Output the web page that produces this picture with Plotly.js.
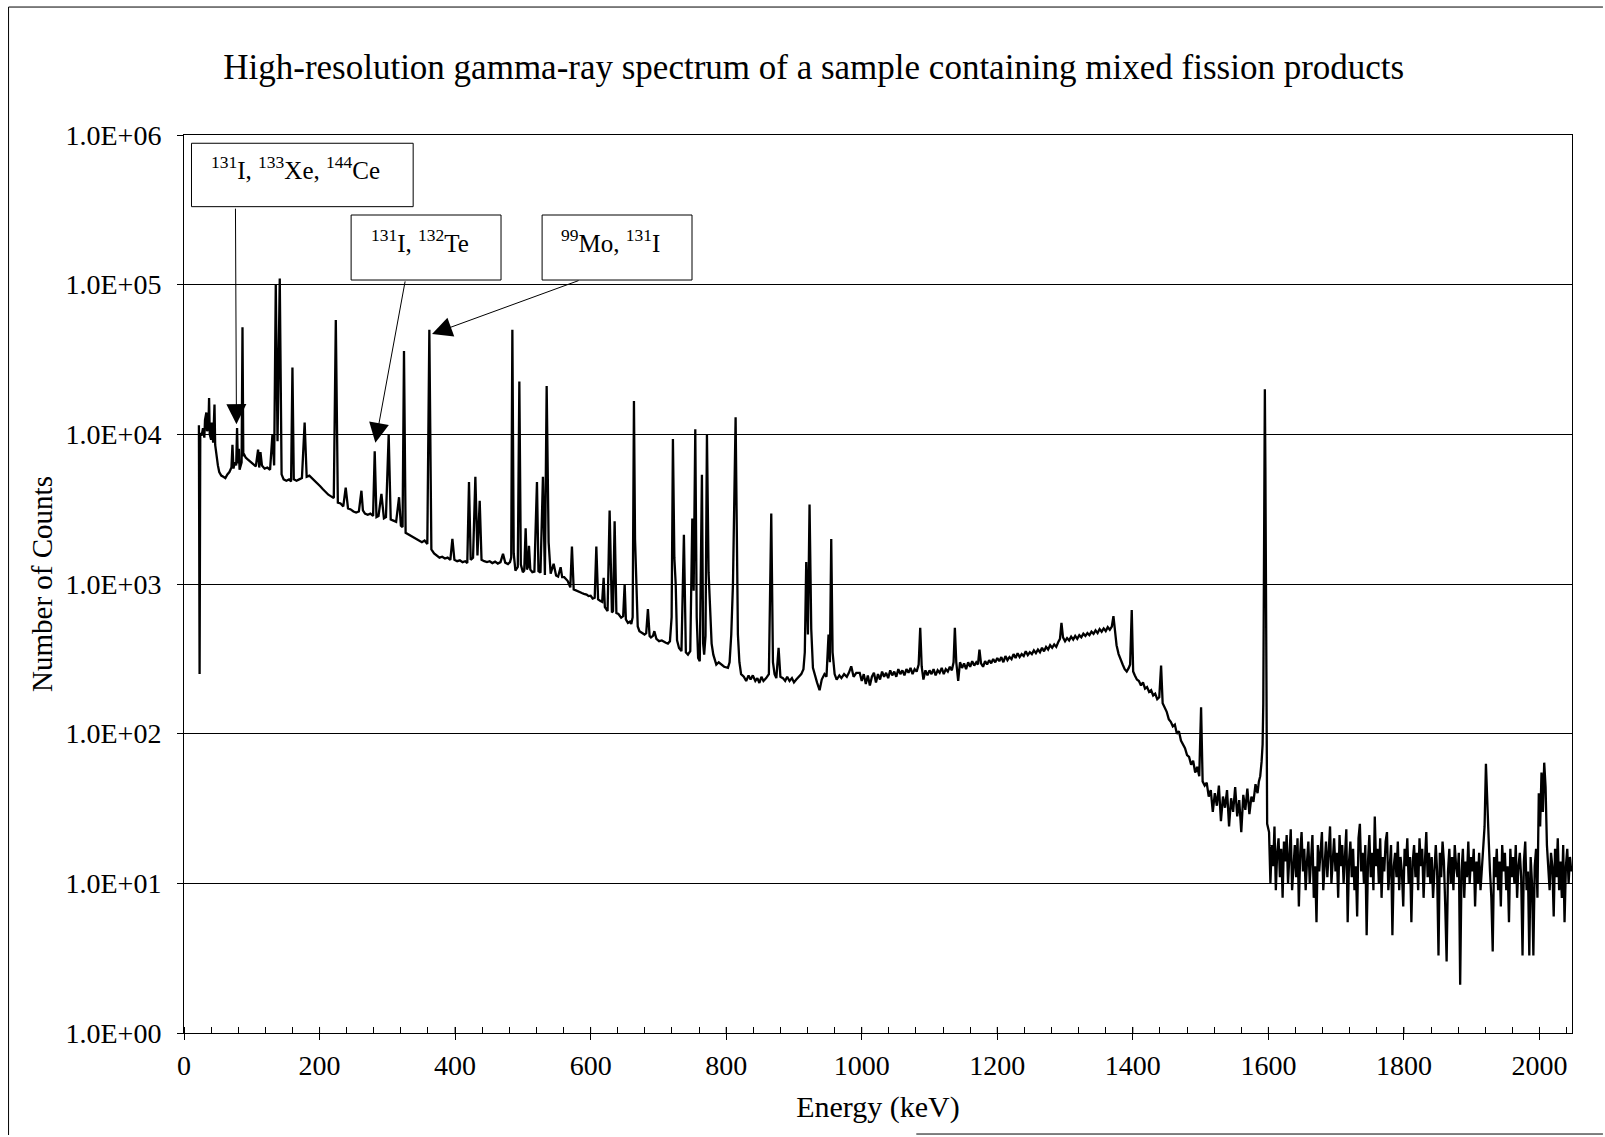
<!DOCTYPE html>
<html>
<head>
<meta charset="utf-8">
<script src="https://cdn.plot.ly/plotly-3.0.1.min.js"></script>
<style>html,body{margin:0;padding:0;background:#fff}#chart{width:1605px;height:1137px}</style>
</head>
<body>
<div id="chart"></div>
<script>
// ---- Data: [energy keV, counts] ----
const lowEnergyRegion = [
  [22,11500],[23,250],[24,10200],[26,9800],[28,11000],[30,9500],[31,12500],[33,14000],[34,10500],[36,11200],
  [37,17500],[38,10000],[40,9200],[41,12000],[43,8800],[45,15800],[46,8500],[48,7000],[50,6200],[52,5600],
  [55,5300],[58,5200],[61,5100],[64,5400],[67,5600],[70,6000],[71.5,8500],[73,5900],[75,6500],[77,6200],
  [78.3,11000],[79.5,6400],[81,8000],[82,5800],[83.5,6200],[85,6500],[86.3,52000],[87.5,7200],[89,7300],[91,7000],
  [94,6800],[97,6600],[100,6400]
];
const region100to450 = [
  [103,6300],[106,6100],[109.3,7900],[111,6000],[112.8,7600],[115,6200],[119,5900],[123,6000],[127,5800],[130.5,10000],
  [133,6200],[135.4,100000],[138,9000],[141.3,110000],[144,5400],[147,5000],[151,4900],[155,5000],[158,4850],[160,28000],
  [162,5000],[166,4900],[170,5000],[174,5100],[178,12000],[181,5200],[185,5300],[189,5100],[193,4900],[197,4700],
  [201,4500],[205,4300],[209,4100],[213,3950],[217,3850],[221,3750],[224,58000],[227,3500],[231,3450],[235,3300],
  [238.6,4400],[242,3200],[246,3150],[250,3050],[254,3000],[258,3050],[261.8,4200],[264,3100],[267,2950],[271,2900],
  [275,2950],[279,2850],[281.4,7700],[284,2800],[287,2850],[291.3,4000],[295,2750],[298,2800],[302,10000],[305,2700],
  [309,2650],[313,2600],[317.3,3800],[320,2450],[322.5,2400],[324.6,36000],[327,2200],[331,2150],[335,2100],[339,2050],
  [343,2000],[347,1950],[351,1900],[355,1950],[359,1850],[362,50000],[365,1700],[369,1600],[373,1550],[377,1500],
  [381,1520],[385,1480],[389,1500],[393,1450],[396,2000],[399,1450],[403,1420],[407,1440],[411,1400],[415,1420],
  [418,1380],[420.5,4800],[423,1450],[426.5,1500],[429.9,5200],[433,1550],[436.3,3600],[439,1450],[443,1420],[447,1400]
];
const region450to1000 = [
  [451,1420],[455,1380],[459,1410],[463,1370],[467,1400],[470.7,1590],[474,1390],[478,1360],[481,1400],[482.8,1500],
  [484.5,50000],[486.5,1600],[489,1230],[492.5,1300],[494.8,22500],[497,1350],[500,1200],[502,1230],[504.1,2360],[506,1250],
  [507.5,1300],[509,1800],[511,1250],[514,1200],[517,1210],[520.8,4800],[523,1220],[526,1190],[529.6,5200],[532.5,1150],
  [535.1,21000],[538,1900],[541,1170],[545.4,1365],[549,1140],[552,1120],[555.7,1295],[558,1110],[561,1110],[564,1080],
  [566,1050],[570,950],[572.4,1780],[575,920],[579,900],[583,880],[587,870],[590,860],[594,850],[597,830],
  [600,835],[603,800],[606,810],[608.4,1780],[611,790],[614,773],[617,760],[619.2,1100],[621,700],[625,660],
  [628,3100],[631.4,645],[633,660],[635.4,2630],[638,640],[641,630],[645,596],[648,610],[650.2,1000],[652,580],
  [655,550],[658,560],[660,540],[662,600],[663.9,16700],[665.5,2000],[667.4,1170],[669.5,520],[672,484],[676,470],
  [679.5,460],[682,470],[684.5,680],[687,450],[689,440],[692,450],[694,484],[697,430],[701,415],[705,420],
  [708,410],[711,405],[714,400],[717,415],[719.5,600],[721.4,9300],[723.5,1500],[725.5,1000],[727.5,420],[730.4,374],
  [734,356],[737.6,2130],[740.5,350],[743.6,337],[747,356],[750,2740],[752,900],[754.4,10800],[756.5,600],[758.6,320],
  [761,305],[764.2,5370],[766,400],[767.5,337],[769.5,450],[771.6,10000],[774,1200],[776,773],[778.5,400],[781,337],
  [785.4,289],[789,300],[792.8,289],[797,280],[802.6,275],[805,300],[807.5,460],[810,1000],[813.9,13000],[815.5,1500],
  [817.3,460],[819.5,300],[822,250],[826,240],[829.5,225],[833,245],[836,230],[839.3,245],[843,225],[846,235],
  [849,218],[852,240],[855,225],[859,235],[863,250],[866.5,2960],[869,300],[871.4,250],[874,235],[877.3,375],
  [880,240],[883.7,235],[887,225],[890,240],[893.5,225],[897,235],[900,220],[903.4,230],[907,240],[910.8,250],
  [914,270],[916,350],[918.1,1400],[920.6,460],[923,3400],[925.5,500],[928,275],[931,240],[934,220],[937.8,195],
  [941,230],[945,250],[948,240],[951,460],[953,300],[955,2000],[957,350],[960,250],[963,230],[967,245],
  [970,235],[974,250],[978,240],[981,255],[984.5,282],[988,240],[992,255],[997,255]
];
const region1000to1600 = [
  [1000,225],[1003,250],[1006,215],[1009,245],[1012,210],[1015,240],[1018,255],[1021,220],[1024,250],[1027,230],
  [1030,260],[1033,240],[1036,255],[1039,235],[1042,265],[1045,245],[1048,260],[1051,240],[1054,270],[1057,250],
  [1060,265],[1063,245],[1066,270],[1069,255],[1072,275],[1075,250],[1078,270],[1081,260],[1084,290],[1086.3,510],
  [1088.5,280],[1091,230],[1094,265],[1097,245],[1100,265],[1103,250],[1106,270],[1109,245],[1112,265],[1115,255],
  [1118,275],[1121,250],[1124,270],[1127,260],[1130,280],[1133,265],[1135.5,300],[1137.4,510],[1139.5,300],[1142.3,225],
  [1145,300],[1148,275],[1151,295],[1154,270],[1157,300],[1160,280],[1163,305],[1166,285],[1169,300],[1171.5,290],
  [1173.7,365],[1176,295],[1179,280],[1182,305],[1185,290],[1188,310],[1191,295],[1194,315],[1197,300],[1200,320],
  [1203,305],[1206,325],[1209,300],[1212,330],[1215,310],[1218,325],[1221,315],[1224,340],[1227,320],[1230,345],
  [1233,325],[1236,340],[1239,330],[1242,355],[1245,335],[1248,350],[1251,340],[1254,360],[1257,345],[1260,365],
  [1263,350],[1266,375],[1269,355],[1272,380],[1275,365],[1278,390],[1281,375],[1284,395],[1287,380],[1290,410],
  [1292.5,430],[1294.7,550],[1297,440],[1300,415],[1303,435],[1306,420],[1309,445],[1312,425],[1315,450],[1318,430],
  [1321,455],[1324,440],[1327,465],[1330,450],[1333,470],[1336,455],[1339,480],[1342,465],[1345,490],[1348,470],
  [1351,500],[1354,480],[1357,505],[1360,485],[1363,515],[1366,495],[1369,520],[1371.4,610],[1373.5,480],[1376,390],
  [1379,340],[1382,310],[1385,290],[1388,270],[1391,260],[1394,275],[1396,290],[1398.4,670],[1400.5,260],[1403,245],
  [1406,230],[1409,225],[1412,210],[1415,220],[1418,200],[1421,205],[1424,190],[1427,195],[1430,180],[1433,185],
  [1436,170],[1439,175],[1441.7,285],[1444,160],[1447,150],[1450,140],[1453,125],[1456,120],[1459,112],[1462,115],
  [1465,100],[1468,104],[1471,90],[1474,85],[1477,80],[1480,72],[1483,70],[1486,62],[1489,66],[1492,55],
  [1495,60],[1498,52],[1500.7,150],[1503,48],[1506,45],[1509,47],[1512,38],[1515,42],[1518,30],[1521,40],
  [1524,33],[1527,45],[1530,26],[1533,38],[1536,32],[1539,42],[1542,24],[1545,37],[1548,30],[1551,44],
  [1554,28],[1557,36],[1560,22],[1563,39],[1566,31],[1569,43],[1572,29],[1575,38],[1578,35],[1581,46],
  [1584,40],[1586,48],[1588,52],[1590,65],[1591.5,85],[1592.5,160],[1593.3,600],[1594,4000],[1594.8,20000],[1595.6,6000],
  [1596.4,700],[1597.2,90],[1598.2,25]
];
const regionAbove1600 = [
  [1601,22],[1603,10],[1605,18],[1607,13],[1609,24],[1611,9],[1613,16],[1615,20],[1617,11],[1619,17],
  [1621,8],[1623,19],[1625,14],[1627,21],[1629,10],[1631,15],[1633,23],[1635,9],[1637,13],[1639,18],
  [1641,11],[1643,20],[1645,7],[1647,16],[1649,22],[1651,12],[1653,17],[1655,9],[1657,14],[1659,19],
  [1661,10],[1663,15],[1665,21],[1667,8],[1669,13],[1671,5.5],[1673,18],[1675,12],[1677,16],[1679,22],
  [1681,9],[1683,14],[1685,19],[1687,11],[1689,17],[1691,24],[1693,10],[1695,15],[1697,20],[1699,12],
  [1701,16],[1703,8],[1705,21],[1707,13],[1709,18],[1711,10],[1713,15],[1715,23],[1717,5.5],[1719,14],
  [1721,19],[1723,11],[1725,17],[1727,9],[1729,13],[1731,6],[1733,20],[1735,25],[1737,12],[1739,16],
  [1741,10],[1743,18],[1745,4.5],[1747,14],[1749,21],[1751,11],[1753,16],[1755,9],[1757,28],[1759,13],
  [1761,17],[1763,10],[1765,20],[1767,8],[1769,15],[1771,12],[1773,19],[1775,22],[1777,9],[1779,14],
  [1781,18],[1783,4.5],[1785,13],[1787,16],[1789,11],[1791,19],[1793,9],[1795,15],[1797,12],[1799,7],
  [1801,17],[1803,13],[1805,20],[1807,10],[1809,15],[1811,5.5],[1813,14],[1815,18],[1817,11],[1819,16],
  [1821,9],[1823,20],[1825,13],[1827,17],[1829,8],[1831,14],[1833,22],[1835,11],[1837,16],[1839,10],
  [1841,15],[1843,8],[1845,13],[1847,18],[1849,12],[1851,3.3],[1853,16],[1855,11],[1857,19],[1859,14],
  [1861,7],[1863,3.0],[1865,12],[1867,17],[1869,10],[1871,15],[1873,9],[1875,18],[1877,13],[1879,11],
  [1881,16],[1883,2.1],[1885,12],[1887,17],[1889,8],[1891,14],[1893,11],[1895,19],[1897,10],[1899,15],
  [1901,12],[1903,17],[1905,7],[1907,14],[1909,10],[1911,16],[1913,9],[1915,13],[1917,18],[1919,24],
  [1921,63],[1923,40],[1925,20],[1927,12],[1929,8],[1931,3.5],[1933,15],[1935,11],[1937,17],[1939,9],
  [1941,14],[1943,7],[1945,18],[1947,12],[1949,16],[1951,9],[1953,13],[1955,5.5],[1957,17],[1959,11],
  [1961,15],[1963,10],[1965,18],[1967,8],[1969,13],[1971,16],[1973,11],[1975,3.3],[1977,14],[1979,19],
  [1981,9],[1983,12],[1985,3.3],[1987,15],[1989,10],[1991,3.3],[1993,13],[1995,17],[1997,8],[1999,40],
  [2001,24],[2003,55],[2005,30],[2007,64],[2009,44],[2011,18],[2013,12],[2015,9],[2017,16],[2019,13],
  [2021,6],[2023,17],[2025,11],[2027,20],[2029,9],[2031,14],[2033,8],[2035,18],[2037,5.5],[2039,13],
  [2041,17],[2043,10],[2045,15],[2047,12]
];

// ---- Axis tick labels ----
const xTickVals = [0,200,400,600,800,1000,1200,1400,1600,1800,2000];
const yTickVals = [1,10,100,1000,10000,100000,1000000];
const yTickText = ['1.0E+00','1.0E+01','1.0E+02','1.0E+03','1.0E+04','1.0E+05','1.0E+06'];

// ---- Peak labels ----
const peakLabels = [
  '<sup>131</sup>I, <sup>133</sup>Xe, <sup>144</sup>Ce',
  '<sup>131</sup>I, <sup>132</sup>Te',
  '<sup>99</sup>Mo, <sup>131</sup>I'
];

const allPoints = [].concat(lowEnergyRegion, region100to450, region450to1000, region1000to1600, regionAbove1600);
const energy = allPoints.map(p => p[0]);
const counts = allPoints.map(p => p[1]);

const FONT = '"Liberation Serif", "Times New Roman", Times, serif';

const trace = {
  type: 'scatter', mode: 'lines', x: energy, y: counts,
  line: {color: '#000', width: 2.3}, hoverinfo: 'skip', showlegend: false
};

const labelStyle = {xref: 'paper', yref: 'paper', xanchor: 'center', yanchor: 'middle', showarrow: false,
  font: {size: 25, family: FONT, color: '#000'}};
const arrowStyle = {xref: 'x', yref: 'y', text: '', showarrow: true, arrowhead: 2, arrowsize: 4,
  arrowwidth: 1, arrowcolor: '#000', standoff: 0, axref: 'pixel', ayref: 'pixel'};
const boxShape = {type: 'rect', xref: 'paper', yref: 'paper', fillcolor: '#fff', line: {color: '#000', width: 1}, layer: 'above'};

// inward half of the crossing major ticks on the energy axis, placed at the tick values
const innerMajorTicks = xTickVals.map(v => ({type: 'line', xref: 'x', yref: 'paper', x0: v, x1: v, y0: 0, y1: 0.0067,
  line: {color: '#000', width: 1}}));

const layout = {
  width: 1605, height: 1137,
  paper_bgcolor: '#fff', plot_bgcolor: '#fff',
  margin: {l: 184, r: 33, t: 135, b: 104, pad: 0},
  showlegend: false,
  font: {family: FONT, color: '#000', size: 28},
  title: {text: 'High-resolution gamma-ray spectrum of a sample containing mixed fission products',
    font: {size: 35, family: FONT, color: '#000'}, x: 0.507, xanchor: 'center', y: 0.9415, yanchor: 'middle',
    xref: 'container', yref: 'container'},
  xaxis: {
    range: [0, 2048], tickmode: 'array', tickvals: xTickVals, ticks: 'outside', ticklen: 6, tickwidth: 1, tickcolor: '#000',
    showline: true, linecolor: '#000', linewidth: 1, mirror: true, showgrid: false, zeroline: false,
    minor: {ticks: 'inside', dtick: 40, tick0: 0, ticklen: 6, tickwidth: 1, tickcolor: '#000', showgrid: false},
    tickfont: {size: 28, family: FONT, color: '#000'}, ticklabelstandoff: 1,
    title: {text: 'Energy (keV)', font: {size: 30, family: FONT, color: '#000'}, standoff: 16},
    automargin: false, fixedrange: true
  },
  yaxis: {
    type: 'log', range: [0, 6], tickmode: 'array', tickvals: yTickVals, ticktext: yTickText,
    ticks: 'outside', ticklen: 6, tickwidth: 1, tickcolor: '#000',
    showline: true, linecolor: '#000', linewidth: 1, mirror: true,
    showgrid: true, gridcolor: '#000', gridwidth: 1, zeroline: false,
    tickfont: {size: 28, family: FONT, color: '#000'}, ticklabelstandoff: 10,
    title: {text: 'Number of Counts', font: {size: 29, family: FONT, color: '#000'}, standoff: 4},
    automargin: false, fixedrange: true
  },
  annotations: [
    Object.assign({}, labelStyle, {x: 0.0806, y: 0.9630, text: peakLabels[0]}),
    Object.assign({}, labelStyle, {x: 0.1699, y: 0.8822, text: peakLabels[1]}),
    Object.assign({}, labelStyle, {x: 0.3071, y: 0.8822, text: peakLabels[2]}),
    Object.assign({}, arrowStyle, {x: 77.4, y: 4.068, ax: -1, ay: -217}),
    Object.assign({}, arrowStyle, {x: 282.4, y: 3.943, ax: 30, ay: -163}),
    Object.assign({}, arrowStyle, {x: 366, y: 4.67, ax: 148, ay: -54})
  ],
  shapes: [
    Object.assign({}, boxShape, {x0: 0.0054, x1: 0.1651, y0: 0.9202, y1: 0.9908}),
    Object.assign({}, boxShape, {x0: 0.1204, x1: 0.2284, y0: 0.8385, y1: 0.9109}),
    Object.assign({}, boxShape, {x0: 0.2580, x1: 0.3660, y0: 0.8385, y1: 0.9109}),
    {type: 'line', xref: 'paper', yref: 'paper', x0: -0.1264, x1: 1.0223, y0: 1.1425, y1: 1.1425, line: {color: '#000', width: 1}},
    {type: 'line', xref: 'paper', yref: 'paper', x0: -0.1264, x1: -0.1264, y0: 1.1425, y1: -0.1136, line: {color: '#000', width: 1}},
    {type: 'line', xref: 'paper', yref: 'paper', x0: 0.5276, x1: 1.0223, y0: -0.1125, y1: -0.1125, line: {color: '#000', width: 1}}
  ].concat(innerMajorTicks)
};

Plotly.newPlot('chart', [trace], layout, {staticPlot: true, displayModeBar: false});
</script>
</body>
</html>
